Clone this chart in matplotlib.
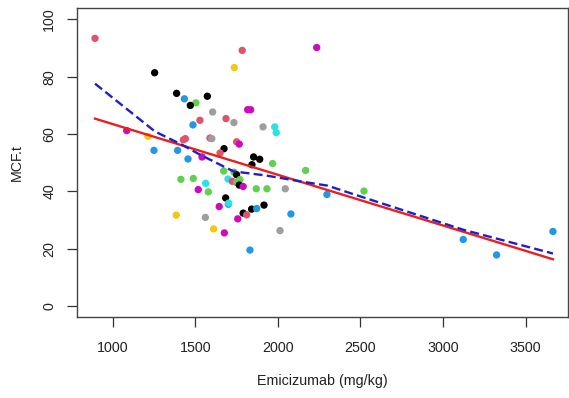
import matplotlib
matplotlib.use('Agg')
import matplotlib.pyplot as plt
import numpy as np

plt.rcParams['font.family'] = ['Liberation Sans', 'DejaVu Sans']

# R 4 default palette
pal = {'K': '#000000', 'R': '#DF536B', 'G': '#61D04F', 'B': '#2297E6',
       'C': '#28E2E5', 'M': '#CD0BBC', 'Y': '#F5C710', 'Gr': '#9E9E9E'}

# ---- data ----
emicizumab = [893, 1784, 2235, 1254, 1736, 1387, 1434, 1504, 1470, 1573,
              1605, 1817, 1835, 1528, 1686, 1734, 1486, 1910, 1981, 1990,
              1085, 1214, 1440, 1428, 1589, 1600, 1750, 1766, 1250, 1393,
              1674, 1650, 1456, 1541, 1853, 1890, 1843, 1968, 2168, 1413,
              1488, 1563, 1518, 1579, 1672, 1734, 1750, 1770, 1698, 1724,
              1750, 1766, 1790, 1869, 1934, 2045, 2297, 1684, 1700, 1702,
              1645, 1757, 1790, 1811, 1841, 1872, 1916, 2079, 1385, 1561,
              1611, 1676, 2013, 1831, 2521, 3122, 3324, 3665]
mcf_t = [93.4, 89.2, 90.2, 81.4, 83.2, 74.2, 72.3, 70.9, 70.0, 73.2,
         67.7, 68.5, 68.5, 64.8, 65.4, 64.0, 63.2, 62.5, 62.5, 60.5,
         61.2, 59.2, 58.4, 58.0, 58.6, 58.4, 57.3, 56.5, 54.3, 54.3,
         54.9, 53.4, 51.3, 52.0, 52.0, 51.2, 49.3, 49.7, 47.3, 44.2,
         44.5, 42.8, 40.6, 39.8, 47.1, 46.7, 45.8, 44.1, 44.3, 43.5,
         43.1, 42.2, 41.7, 40.9, 40.9, 40.9, 38.9, 37.7, 35.5, 35.9,
         34.7, 30.4, 32.4, 31.8, 33.8, 34.0, 35.2, 32.1, 31.7, 30.9,
         26.9, 25.5, 26.3, 19.5, 40.1, 23.2, 17.8, 26.0]
group = ['R', 'R', 'M', 'K', 'Y', 'K', 'B', 'G', 'K', 'K',
         'Gr', 'M', 'M', 'R', 'R', 'Gr', 'B', 'Gr', 'C', 'C',
         'M', 'Y', 'R', 'R', 'R', 'Gr', 'R', 'M', 'B', 'B',
         'K', 'R', 'B', 'M', 'K', 'K', 'K', 'G', 'G', 'G',
         'G', 'C', 'M', 'G', 'G', 'G', 'K', 'G', 'C', 'R',
         'G', 'K', 'M', 'G', 'G', 'Gr', 'B', 'K', 'B', 'C',
         'M', 'M', 'K', 'R', 'K', 'B', 'K', 'B', 'Y', 'Gr',
         'Y', 'M', 'Gr', 'B', 'G', 'B', 'B', 'B']

# linear fit (intercept, slope) and smoother
lm_intercept = 81.2
lm_slope = -0.01771
smooth_x = [893, 1256, 1418, 1529, 1730, 1932, 2134, 2300, 2437, 3122, 3665]
smooth_y = [77.6, 60.9, 56.3, 52.8, 47.0, 45.5, 43.5, 42.0, 39.4, 26.6, 18.3]

x_ticks = [1000, 1500, 2000, 2500, 3000, 3500]
y_ticks = [0, 20, 40, 60, 80, 100]

fig = plt.figure(figsize=(5.69, 3.98), dpi=100)
ax = fig.add_axes([0.1353, 0.2025, 0.8629, 0.7774])

ax.scatter(emicizumab, mcf_t, s=28, c=[pal[g] for g in group],
           edgecolors='none', zorder=2)

xs = np.array([min(emicizumab), max(emicizumab)])
ax.plot(xs, lm_intercept + lm_slope * xs, color='#E8201E', lw=1.7, zorder=3)
ax.plot(smooth_x, smooth_y, color='#1F1FC8', lw=1.7, dashes=(3.8, 1.8),
        zorder=4)

ax.set_xlim(784, 3756)
ax.set_ylim(-4, 104)
ax.set_xticks(x_ticks)
ax.set_yticks(y_ticks)
ax.tick_params(axis='both', direction='out', length=7, width=0.9,
               color='#333333', labelsize=10.3, labelcolor='#222222')
ax.tick_params(axis='x', pad=10)
ax.tick_params(axis='y', pad=8)
for lab in ax.get_yticklabels():
    lab.set_rotation(90)
    lab.set_va('center')
for sp in ax.spines.values():
    sp.set_color('#444444')
    sp.set_linewidth(1.0)

ax.set_xlabel('Emicizumab (mg/kg)', fontsize=10.3, color='#222222', labelpad=14)
ax.set_ylabel('MCF.t', fontsize=10.3, color='#222222', labelpad=13)

fig.savefig('out.png', dpi=100, facecolor='white')
